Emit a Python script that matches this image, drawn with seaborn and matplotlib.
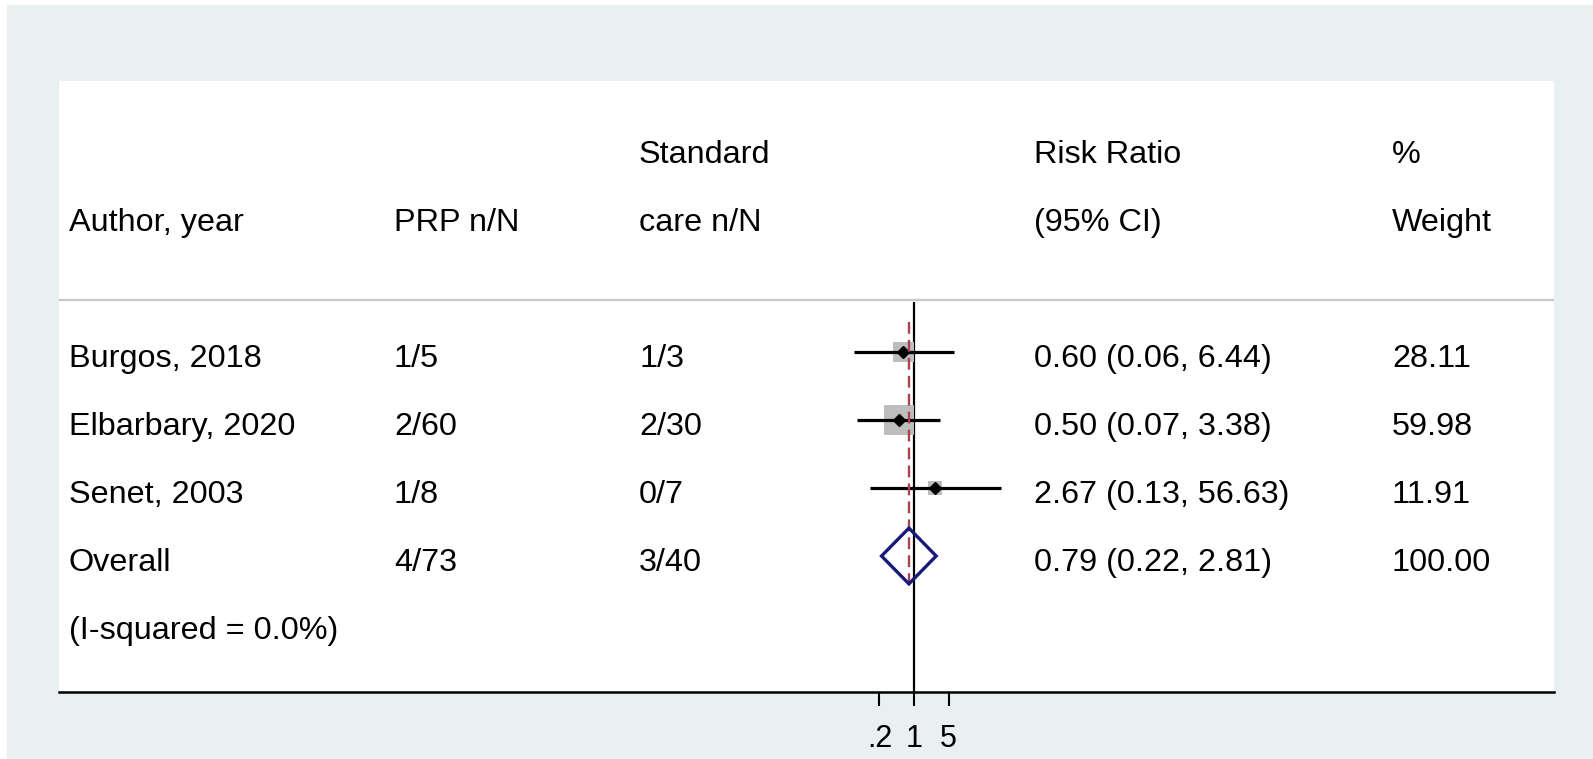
import numpy as np
import pandas as pd
import matplotlib
matplotlib.use("Agg")
import matplotlib.pyplot as plt
from matplotlib.patches import Rectangle, Polygon
from matplotlib.transforms import blended_transform_factory
import seaborn as sns

# ---- data ----
studies = ["Burgos, 2018", "Elbarbary, 2020", "Senet, 2003"]
prp_nN = ["1/5", "2/60", "1/8"]
care_nN = ["1/3", "2/30", "0/7"]
rr = [0.60, 0.50, 2.67]
rr_lo = [0.06, 0.07, 0.13]
rr_hi = [6.44, 3.38, 56.63]
weights = [28.11, 59.98, 11.91]

overall_label = "Overall"
overall_prp = "4/73"
overall_care = "3/40"
overall_rr = 0.79
overall_lo = 0.22
overall_hi = 2.81
overall_weight = 100.00
heterogeneity = "(I-squared = 0.0%)"

tick_values = [0.2, 1, 5]
tick_labels = [".2", "1", "5"]

sns.set_theme(style="white")
plt.rcParams["font.family"] = ["Liberation Sans", "DejaVu Sans"]
plt.rcParams["text.color"] = "black"
plt.rcParams["xtick.color"] = "black"
plt.rcParams["xtick.labelcolor"] = "black"

W, H = 1593, 759
fig = plt.figure(figsize=(W / 100, H / 100), dpi=100)
fig.patch.set_facecolor("white")
# light region behind the plot panel
fig.patches.append(Rectangle((7 / W, 0), 1 - 7 / W, 1 - 5 / H,
                             transform=fig.transFigure, facecolor="#E8F0F2",
                             edgecolor="none", zorder=-10))

# plot panel (white)
left_px, right_px, top_px, bottom_px = 59, 1554, 81, 692
ax = fig.add_axes([left_px / W, 1 - bottom_px / H,
                   (right_px - left_px) / W, (bottom_px - top_px) / H])
ax.set_facecolor("white")

# log-scale x: ln-units per pixel, with RR=1 sitting at x=914px
px_per_ln = 21.45
x_one_px = 914
ax.set_xscale("log")
ax.set_xlim(np.exp((left_px - x_one_px) / px_per_ln),
            np.exp((right_px - x_one_px) / px_per_ln))

# rows: study rows 0..2, overall 3, heterogeneity 4
row_px = 68
row0_px = 352
ax.set_ylim((bottom_px - row0_px) / row_px, (top_px - row0_px) / row_px)

n = len(studies)
rows = np.arange(n)
overall_row = n
het_row = n + 1

df = pd.DataFrame({"study": studies, "rr": rr, "lo": rr_lo, "hi": rr_hi,
                   "weight": weights, "row": rows})

# weight boxes (area proportional to weight)
box_side_pt = 3.95 * np.sqrt(df["weight"].to_numpy()) * 0.72
sns.scatterplot(data=df, x="rr", y="row", marker="s", s=box_side_pt ** 2,
                color="#BDBDBD", edgecolor="none", linewidth=0, ax=ax,
                legend=False, zorder=2)

# confidence intervals
ax.hlines(df["row"], df["lo"], df["hi"], color="black", lw=2.3, zorder=3)

# point estimates
ax.plot(df["rr"], df["row"], linestyle="none", marker="D", ms=6.4,
        color="black", zorder=4)

# null line at RR = 1
header_line_row = (300 - row0_px) / row_px
ax.vlines(1, header_line_row + 0.03, (bottom_px - row0_px) / row_px,
          color="black", lw=1.6, zorder=1)

# overall estimate line
ax.vlines(overall_rr, (322 - row0_px) / row_px, overall_row + 0.5,
          color="#A8434F", lw=1.7, linestyles=(0, (5, 2.6)), zorder=5)

# overall diamond
dh = 0.41
diamond = Polygon([(overall_lo, overall_row), (overall_rr, overall_row - dh),
                   (overall_hi, overall_row), (overall_rr, overall_row + dh)],
                  closed=True, facecolor="none", edgecolor="#1A1A78",
                  lw=2.4, zorder=6)
ax.add_patch(diamond)

# header separator
ax.axhline(header_line_row, color="#C8C8C8", lw=1.6, zorder=0)

# ---- text columns ----
tr = blended_transform_factory(ax.transAxes, ax.transData)
span = right_px - left_px
col_x = {k: (v - left_px) / span for k, v in
         {"author": 69, "prp": 394, "care": 639, "rr": 1034, "wt": 1392}.items()}
fs = 23.3
base = 0.22  # baseline offset below row centre
txt = dict(transform=tr, fontsize=fs, va="baseline", ha="left", color="black")

hdr1 = (163 - row0_px) / row_px
hdr2 = hdr1 + 1.0
for key, l1, l2 in [("author", "", "Author, year"), ("prp", "", "PRP n/N"),
                    ("care", "Standard", "care n/N"),
                    ("rr", "Risk Ratio", "(95% CI)"), ("wt", "%", "Weight")]:
    if l1:
        ax.text(col_x[key], hdr1, l1, **txt)
    ax.text(col_x[key], hdr2, l2, **txt)

for i in range(n):
    y = rows[i] + base
    ax.text(col_x["author"], y, studies[i], **txt)
    ax.text(col_x["prp"], y, prp_nN[i], **txt)
    ax.text(col_x["care"], y, care_nN[i], **txt)
    ax.text(col_x["rr"], y, f"{rr[i]:.2f} ({rr_lo[i]:.2f}, {rr_hi[i]:.2f})", **txt)
    ax.text(col_x["wt"], y, f"{weights[i]:.2f}", **txt)

y = overall_row + base
ax.text(col_x["author"], y, overall_label, **txt)
ax.text(col_x["prp"], y, overall_prp, **txt)
ax.text(col_x["care"], y, overall_care, **txt)
ax.text(col_x["rr"], y, f"{overall_rr:.2f} ({overall_lo:.2f}, {overall_hi:.2f})", **txt)
ax.text(col_x["wt"], y, f"{overall_weight:.2f}", **txt)
ax.text(col_x["author"], het_row + base, heterogeneity, **txt)

# ---- axes styling ----
for s in ["left", "top", "right"]:
    ax.spines[s].set_visible(False)
ax.spines["bottom"].set_color("black")
ax.spines["bottom"].set_linewidth(1.8)
ax.set_yticks([])
ax.set_xticks(tick_values)
ax.set_xticklabels(tick_labels)
ax.xaxis.set_minor_locator(matplotlib.ticker.NullLocator())
ax.tick_params(axis="x", which="major", direction="out", length=10, width=1.5,
               color="black", labelcolor="black", labelsize=22, pad=13, bottom=True)
ax.set_xlabel("")
ax.set_ylabel("")

fig.savefig("out.png", dpi=100, facecolor=fig.get_facecolor())
